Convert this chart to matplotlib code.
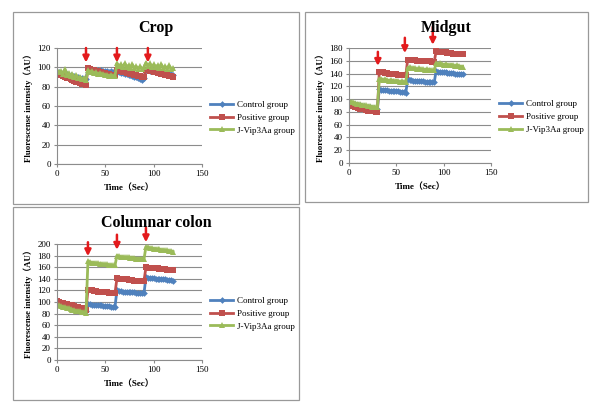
import numpy as np
import matplotlib
matplotlib.use("Agg")
import matplotlib.pyplot as plt
from matplotlib.patches import Rectangle

# sampling times (Sec), one reading every 2 s
time = np.arange(0, 121, 2)

# Crop
crop_control = [95, 95, 94, 94, 93, 93, 92, 92, 91, 91, 90, 90, 89, 89, 88, 88,
                98, 98, 97, 97, 97, 97, 96, 97, 96, 96, 96, 95, 96, 95, 95,
                95, 95, 94, 94, 93, 93, 92, 92, 91, 90, 90, 89, 88, 87, 89,
                97, 97, 96, 96, 96, 95, 95, 95, 94, 94, 94, 93, 93, 93, 92]
crop_positive = [93, 93, 92, 91, 90, 89, 89, 88, 87, 86, 85, 85, 84, 83, 83, 82,
                 99, 98, 97, 97, 96, 96, 95, 95, 94, 94, 93, 93, 92, 92, 92,
                 97, 96, 96, 95, 95, 94, 94, 93, 93, 92, 92, 91, 91, 90, 90,
                 97, 97, 96, 96, 95, 95, 94, 94, 93, 93, 92, 92, 91, 91, 90]
crop_vip = [97, 95, 96, 93, 98, 92, 94, 91, 93, 90, 92, 89, 90, 88, 89, 87,
            97, 95, 96, 94, 95, 93, 94, 93, 93, 92, 92, 91, 92, 91, 91,
            104, 101, 103, 100, 104, 100, 102, 99, 103, 99, 101, 98, 101, 98, 100,
            105, 101, 104, 100, 103, 100, 102, 99, 103, 99, 101, 98, 102, 98, 99]

# Midgut
mid_control = [95, 94, 93, 92, 91, 91, 90, 89, 89, 88, 87, 87, 86, 86, 85, 85,
               116, 115, 115, 114, 114, 113, 113, 113, 112, 112, 112, 111, 111, 111, 110,
               131, 130, 130, 129, 129, 129, 128, 128, 128, 127, 127, 127, 126, 126, 126,
               144, 143, 143, 142, 142, 142, 141, 141, 141, 141, 140, 140, 140, 140, 139]
mid_positive = [93, 91, 89, 88, 87, 86, 85, 84, 84, 83, 82, 82, 81, 81, 80, 80,
                143, 142, 142, 141, 141, 140, 140, 139, 139, 139, 138, 138, 138, 137, 137,
                162, 162, 161, 161, 161, 160, 160, 160, 160, 159, 159, 159, 159, 158, 158,
                175, 174, 174, 173, 173, 173, 172, 172, 172, 171, 171, 171, 170, 170, 170]
mid_vip = [97, 96, 95, 94, 93, 92, 92, 91, 90, 90, 89, 89, 88, 88, 87, 87,
           131, 132, 130, 131, 130, 129, 130, 129, 128, 129, 128, 127, 128, 127, 127,
           149, 150, 148, 149, 148, 147, 148, 147, 147, 146, 147, 146, 146, 145, 145,
           156, 155, 156, 155, 154, 155, 154, 153, 154, 153, 152, 153, 152, 151, 151]

# Columnar colon
col_control = [98, 97, 96, 95, 94, 93, 92, 91, 91, 90, 89, 88, 88, 87, 86, 85,
               96, 96, 95, 95, 95, 94, 94, 94, 93, 93, 93, 93, 92, 92, 92,
               120, 119, 119, 118, 118, 118, 117, 117, 117, 117, 116, 116, 116, 116, 115,
               143, 142, 142, 141, 141, 140, 140, 140, 139, 139, 139, 138, 138, 138, 137]
col_positive = [101, 100, 99, 98, 97, 96, 95, 95, 94, 93, 92, 91, 90, 89, 88, 87,
                121, 120, 120, 119, 119, 118, 118, 118, 117, 117, 117, 116, 116, 116, 115,
                141, 140, 140, 139, 139, 139, 138, 138, 138, 137, 137, 137, 136, 136, 136,
                160, 159, 159, 159, 158, 158, 158, 157, 157, 157, 157, 156, 156, 156, 155]
col_vip = [95, 94, 93, 92, 91, 90, 89, 88, 87, 86, 85, 85, 84, 83, 82, 81,
           170, 169, 168, 168, 167, 167, 166, 166, 165, 165, 165, 164, 164, 163, 163,
           180, 179, 178, 178, 177, 177, 177, 176, 176, 176, 175, 175, 175, 175, 174,
           195, 194, 193, 193, 192, 192, 191, 191, 190, 190, 189, 189, 188, 188, 187]

group_names = ["Control group", "Positive group", "J-Vip3Aa group"]
colors = ["#4F81BD", "#C0504D", "#9BBB59"]
markers = ["D", "s", "^"]
msizes = [3.4, 4.4, 5.0]

# arrow x position (Sec), top and tip values
crop_arrows = ([30, 62, 94], [120, 120, 120], [105, 105, 105])
mid_arrows = ([30.5, 59, 88.5], [174, 196, 213], [152, 172, 185])
col_arrows = ([32, 62, 92], [203, 216, 228], [179, 190, 203])

SERIF = ["Liberation Serif", "Noto Sans CJK SC", "DejaVu Serif"]
GRID = "#8c8c8c"

W, H = 602, 412
fig = plt.figure(figsize=(W / 100, H / 100), dpi=100)


def px_rect(x0, y0, x1, y1):
    # pixel box (from top-left) -> figure fraction
    return [x0 / W, 1 - y1 / H, (x1 - x0) / W, (y1 - y0) / H]


def draw_panel(box, axbox, title, series, ymax, arrows):
    fig.patches.append(Rectangle((box[0], box[1]), box[2], box[3], transform=fig.transFigure,
                                 fill=False, edgecolor="#999999", linewidth=0.9))
    ax = fig.add_axes(axbox)
    for vals, name, c, m, ms in zip(series, group_names, colors, markers, msizes):
        ax.plot(time, vals, color=c, marker=m, markersize=ms, linewidth=2.0,
                markeredgewidth=0, label=name)
    ax.set_xlim(0, 150)
    ax.set_ylim(0, ymax)
    ax.set_xticks([0, 50, 100, 150])
    ax.set_yticks(np.arange(0, ymax + 1, 20))
    ax.yaxis.grid(True, color=GRID, linewidth=0.8)
    ax.set_axisbelow(True)
    for s in ["top", "right"]:
        ax.spines[s].set_visible(False)
    for s in ["left", "bottom"]:
        ax.spines[s].set_color(GRID)
        ax.spines[s].set_linewidth(0.8)
    ax.tick_params(length=2.5, width=0.8, color=GRID, labelsize=6.5, pad=2)
    for lab in ax.get_xticklabels() + ax.get_yticklabels():
        lab.set_family(SERIF)
    ax.set_xlabel("Time（Sec）", family=SERIF, fontsize=6.5, fontweight="bold", labelpad=4)
    ax.set_ylabel("Fluorescense intensity（AU）", family=SERIF, fontsize=6.3,
                  fontweight="bold", labelpad=3)
    ax.legend(loc="center left", bbox_to_anchor=(1.03, 0.40), frameon=False,
              prop={"family": SERIF, "size": 6.5}, handlelength=2.6,
              labelspacing=0.5, handletextpad=0.4, borderaxespad=0)
    for xa, yt, yb in zip(*arrows):
        ax.annotate("", xy=(xa, yb), xytext=(xa, yt), annotation_clip=False,
                    arrowprops=dict(arrowstyle="-|>", color="#E31A1C", lw=1.8,
                                    mutation_scale=9, shrinkA=0, shrinkB=0))
    fig.text(box[0] + box[2] / 2, box[1] + box[3] - 16 / H, title, family=SERIF,
             fontsize=11.5, fontweight="bold", ha="center", va="center")
    return ax


draw_panel(px_rect(13, 12, 299, 204), px_rect(57, 48, 202, 164), "Crop",
           [crop_control, crop_positive, crop_vip], 120, crop_arrows)
draw_panel(px_rect(305, 12, 588, 202), px_rect(349, 48, 491, 163), "Midgut",
           [mid_control, mid_positive, mid_vip], 180, mid_arrows)
draw_panel(px_rect(13, 207, 299, 400), px_rect(57, 244, 202, 360), "Columnar colon",
           [col_control, col_positive, col_vip], 200, col_arrows)

fig.savefig("out.png", dpi=100, facecolor="white")
